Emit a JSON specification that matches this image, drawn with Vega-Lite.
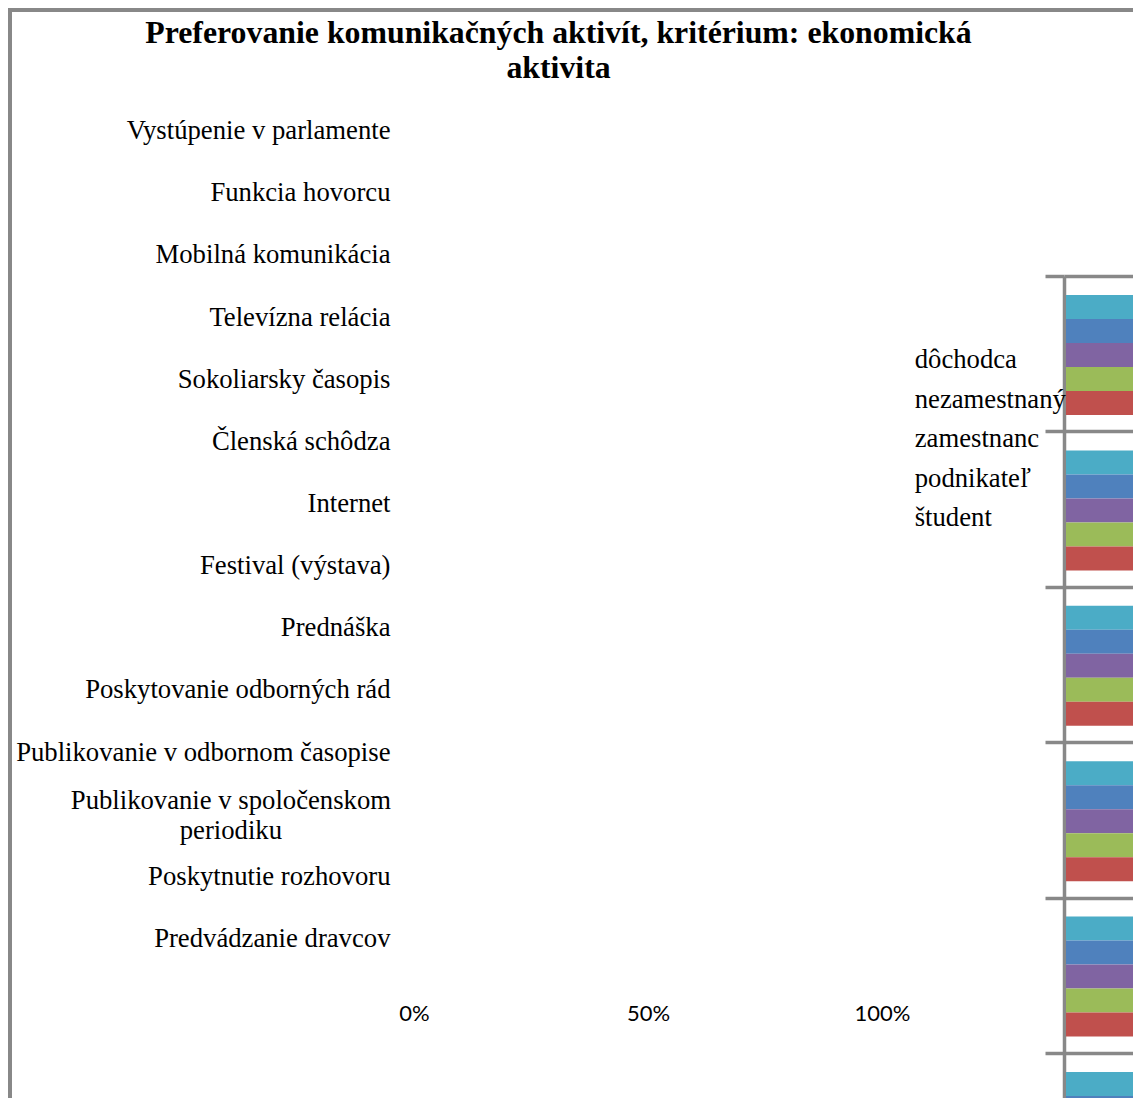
{
  "$schema": "https://vega.github.io/schema/vega-lite/v6.json",
  "usermeta": {"embedOptions": {"actions": false}},
  "autosize": {"type": "none"},
  "width": 1200,
  "height": 1200,
  "padding": {"left": 10, "top": 10, "right": 0, "bottom": 0},
  "background": "white",
  "config": {
    "view": {"stroke": "#888888", "strokeWidth": 4},
    "axis": {"labelColor": "#000000"}
  },
  "title": {
    "text": ["Preferovanie komunikačných aktivít, kritérium: ekonomická", "aktivita"],
    "font": "Liberation Serif",
    "fontSize": 31.8,
    "fontWeight": "bold",
    "color": "#000000",
    "anchor": "middle",
    "frame": "group",
    "baseline": "top",
    "offset": 0,
    "dx": -51.5,
    "dy": 75,
    "lineHeight": 35
  },
  "data": {
    "values": [
      {"aktivita": "Vystúpenie v parlamente", "skupina": "dôchodca", "podiel": 0.42},
      {"aktivita": "Vystúpenie v parlamente", "skupina": "nezamestnaný", "podiel": 0.38},
      {"aktivita": "Vystúpenie v parlamente", "skupina": "zamestnanc", "podiel": 0.45},
      {"aktivita": "Vystúpenie v parlamente", "skupina": "podnikateľ", "podiel": 0.5},
      {"aktivita": "Vystúpenie v parlamente", "skupina": "študent", "podiel": 0.36},
      {"aktivita": "Funkcia hovorcu", "skupina": "dôchodca", "podiel": 0.35},
      {"aktivita": "Funkcia hovorcu", "skupina": "nezamestnaný", "podiel": 0.4},
      {"aktivita": "Funkcia hovorcu", "skupina": "zamestnanc", "podiel": 0.44},
      {"aktivita": "Funkcia hovorcu", "skupina": "podnikateľ", "podiel": 0.47},
      {"aktivita": "Funkcia hovorcu", "skupina": "študent", "podiel": 0.39},
      {"aktivita": "Mobilná komunikácia", "skupina": "dôchodca", "podiel": 0.55},
      {"aktivita": "Mobilná komunikácia", "skupina": "nezamestnaný", "podiel": 0.6},
      {"aktivita": "Mobilná komunikácia", "skupina": "zamestnanc", "podiel": 0.62},
      {"aktivita": "Mobilná komunikácia", "skupina": "podnikateľ", "podiel": 0.66},
      {"aktivita": "Mobilná komunikácia", "skupina": "študent", "podiel": 0.7},
      {"aktivita": "Televízna relácia", "skupina": "dôchodca", "podiel": 0.6},
      {"aktivita": "Televízna relácia", "skupina": "nezamestnaný", "podiel": 0.52},
      {"aktivita": "Televízna relácia", "skupina": "zamestnanc", "podiel": 0.57},
      {"aktivita": "Televízna relácia", "skupina": "podnikateľ", "podiel": 0.58},
      {"aktivita": "Televízna relácia", "skupina": "študent", "podiel": 0.54},
      {"aktivita": "Sokoliarsky časopis", "skupina": "dôchodca", "podiel": 0.68},
      {"aktivita": "Sokoliarsky časopis", "skupina": "nezamestnaný", "podiel": 0.5},
      {"aktivita": "Sokoliarsky časopis", "skupina": "zamestnanc", "podiel": 0.64},
      {"aktivita": "Sokoliarsky časopis", "skupina": "podnikateľ", "podiel": 0.61},
      {"aktivita": "Sokoliarsky časopis", "skupina": "študent", "podiel": 0.56},
      {"aktivita": "Členská schôdza", "skupina": "dôchodca", "podiel": 0.7},
      {"aktivita": "Členská schôdza", "skupina": "nezamestnaný", "podiel": 0.48},
      {"aktivita": "Členská schôdza", "skupina": "zamestnanc", "podiel": 0.59},
      {"aktivita": "Členská schôdza", "skupina": "podnikateľ", "podiel": 0.55},
      {"aktivita": "Členská schôdza", "skupina": "študent", "podiel": 0.46},
      {"aktivita": "Internet", "skupina": "dôchodca", "podiel": 0.5},
      {"aktivita": "Internet", "skupina": "nezamestnaný", "podiel": 0.72},
      {"aktivita": "Internet", "skupina": "zamestnanc", "podiel": 0.75},
      {"aktivita": "Internet", "skupina": "podnikateľ", "podiel": 0.73},
      {"aktivita": "Internet", "skupina": "študent", "podiel": 0.82},
      {"aktivita": "Festival (výstava)", "skupina": "dôchodca", "podiel": 0.74},
      {"aktivita": "Festival (výstava)", "skupina": "nezamestnaný", "podiel": 0.66},
      {"aktivita": "Festival (výstava)", "skupina": "zamestnanc", "podiel": 0.7},
      {"aktivita": "Festival (výstava)", "skupina": "podnikateľ", "podiel": 0.68},
      {"aktivita": "Festival (výstava)", "skupina": "študent", "podiel": 0.71},
      {"aktivita": "Prednáška", "skupina": "dôchodca", "podiel": 0.66},
      {"aktivita": "Prednáška", "skupina": "nezamestnaný", "podiel": 0.55},
      {"aktivita": "Prednáška", "skupina": "zamestnanc", "podiel": 0.63},
      {"aktivita": "Prednáška", "skupina": "podnikateľ", "podiel": 0.6},
      {"aktivita": "Prednáška", "skupina": "študent", "podiel": 0.58},
      {"aktivita": "Poskytovanie odborných rád", "skupina": "dôchodca", "podiel": 0.62},
      {"aktivita": "Poskytovanie odborných rád", "skupina": "nezamestnaný", "podiel": 0.47},
      {"aktivita": "Poskytovanie odborných rád", "skupina": "zamestnanc", "podiel": 0.58},
      {"aktivita": "Poskytovanie odborných rád", "skupina": "podnikateľ", "podiel": 0.64},
      {"aktivita": "Poskytovanie odborných rád", "skupina": "študent", "podiel": 0.45},
      {"aktivita": "Publikovanie v odbornom časopise", "skupina": "dôchodca", "podiel": 0.57},
      {"aktivita": "Publikovanie v odbornom časopise", "skupina": "nezamestnaný", "podiel": 0.43},
      {"aktivita": "Publikovanie v odbornom časopise", "skupina": "zamestnanc", "podiel": 0.53},
      {"aktivita": "Publikovanie v odbornom časopise", "skupina": "podnikateľ", "podiel": 0.56},
      {"aktivita": "Publikovanie v odbornom časopise", "skupina": "študent", "podiel": 0.49},
      {"aktivita": "Publikovanie v spoločenskom periodiku", "skupina": "dôchodca", "podiel": 0.48},
      {"aktivita": "Publikovanie v spoločenskom periodiku", "skupina": "nezamestnaný", "podiel": 0.41},
      {"aktivita": "Publikovanie v spoločenskom periodiku", "skupina": "zamestnanc", "podiel": 0.46},
      {"aktivita": "Publikovanie v spoločenskom periodiku", "skupina": "podnikateľ", "podiel": 0.5},
      {"aktivita": "Publikovanie v spoločenskom periodiku", "skupina": "študent", "podiel": 0.44},
      {"aktivita": "Poskytnutie rozhovoru", "skupina": "dôchodca", "podiel": 0.45},
      {"aktivita": "Poskytnutie rozhovoru", "skupina": "nezamestnaný", "podiel": 0.39},
      {"aktivita": "Poskytnutie rozhovoru", "skupina": "zamestnanc", "podiel": 0.43},
      {"aktivita": "Poskytnutie rozhovoru", "skupina": "podnikateľ", "podiel": 0.52},
      {"aktivita": "Poskytnutie rozhovoru", "skupina": "študent", "podiel": 0.4},
      {"aktivita": "Predvádzanie dravcov", "skupina": "dôchodca", "podiel": 0.78},
      {"aktivita": "Predvádzanie dravcov", "skupina": "nezamestnaný", "podiel": 0.69},
      {"aktivita": "Predvádzanie dravcov", "skupina": "zamestnanc", "podiel": 0.74},
      {"aktivita": "Predvádzanie dravcov", "skupina": "podnikateľ", "podiel": 0.71},
      {"aktivita": "Predvádzanie dravcov", "skupina": "študent", "podiel": 0.8}
    ]
  },
  "resolve": {
    "scale": {"x": "independent", "y": "independent"},
    "axis": {"x": "independent", "y": "independent"}
  },
  "layer": [
    {
      "mark": {"type": "bar", "opacity": 0},
      "encoding": {
        "y": {
          "field": "aktivita",
          "type": "nominal",
          "sort": null,
          "scale": {"range": [90, 960], "paddingInner": 0, "paddingOuter": 0},
          "axis": {
            "orient": "left",
            "offset": -380,
            "title": null,
            "domain": false,
            "ticks": false,
            "tickSize": 0,
            "grid": false,
            "labelPadding": {"condition": {"test": "datum.value === 'Publikovanie v spoločenskom periodiku'", "value": 159.6}, "value": 0},
            "labelAlign": {"condition": {"test": "datum.value === 'Publikovanie v spoločenskom periodiku'", "value": "center"}, "value": "right"},
            "labelOffset": {"condition": {"test": "datum.value === 'Publikovanie v spoločenskom periodiku'", "value": -14}, "value": 0},
            "labelExpr": "datum.value === 'Publikovanie v spoločenskom periodiku' ? ['Publikovanie v spoločenskom', 'periodiku'] : datum.value",
            "labelLineHeight": 30,
            "labelFont": "Liberation Serif",
            "labelFontSize": 26.7,
            "labelColor": "#000000",
            "labelLimit": 0,
            "labelOverlap": false
          }
        },
        "x": {
          "field": "podiel",
          "type": "quantitative",
          "stack": null,
          "scale": {"domain": [0, 1], "range": [404, 872]},
          "axis": {
            "orient": "bottom",
            "offset": -197,
            "title": null,
            "values": [0, 0.5, 1],
            "format": ".0%",
            "domain": false,
            "ticks": false,
            "tickSize": 0,
            "grid": false,
            "labelPadding": 0,
            "labelBaseline": "middle",
            "labelFlush": false,
            "labelOverlap": false,
            "labelFont": "Lato",
            "labelFontSize": 22,
            "labelColor": "#000000"
          }
        }
      }
    },
    {
      "mark": {"type": "bar"},
      "encoding": {
        "y": {
          "field": "aktivita",
          "type": "nominal",
          "sort": null,
          "scale": {"range": [266, 2441.6], "paddingInner": 0, "paddingOuter": 0},
          "axis": {
            "orient": "left",
            "offset": -1054,
            "title": null,
            "labels": false,
            "grid": false,
            "domain": true,
            "domainColor": "#888888",
            "domainWidth": 3.5,
            "ticks": true,
            "tickBand": "extent",
            "tickSize": 19,
            "tickColor": "#888888",
            "tickWidth": 3.5
          }
        },
        "yOffset": {
          "field": "skupina",
          "type": "nominal",
          "sort": ["dôchodca", "nezamestnaný", "zamestnanc", "podnikateľ", "študent"],
          "scale": {"paddingInner": 0, "paddingOuter": 0.7375, "align": 0.537}
        },
        "x": {
          "field": "podiel",
          "type": "quantitative",
          "stack": null,
          "scale": {"domain": [0, 1], "range": [1056, 1524]},
          "axis": null
        },
        "color": {
          "field": "skupina",
          "type": "nominal",
          "sort": ["dôchodca", "nezamestnaný", "zamestnanc", "podnikateľ", "študent"],
          "scale": {
            "domain": ["dôchodca", "nezamestnaný", "zamestnanc", "podnikateľ", "študent"],
            "range": ["#4BACC6", "#4F81BD", "#8064A2", "#9BBB59", "#C0504D"]
          },
          "legend": {
            "orient": "none",
            "legendX": 878,
            "legendY": 337,
            "title": null,
            "symbolSize": 0,
            "symbolOpacity": 0,
            "symbolStrokeWidth": 0,
            "labelOffset": 0,
            "labelFont": "Liberation Serif",
            "labelFontSize": 26.7,
            "labelColor": "#000000",
            "labelLimit": 0,
            "rowPadding": 11.5,
            "padding": 0
          }
        }
      }
    },
    {
      "mark": {"type": "tick", "opacity": 0},
      "encoding": {
        "y": {
          "field": "aktivita",
          "type": "nominal",
          "sort": null,
          "scale": {"range": [266, 2441.6], "paddingInner": 0, "paddingOuter": 0},
          "axis": {
            "orient": "right",
            "offset": -146,
            "title": null,
            "labels": false,
            "grid": false,
            "domain": false,
            "ticks": true,
            "tickBand": "extent",
            "tickSize": 100,
            "tickColor": "#888888",
            "tickWidth": 3.5
          }
        }
      }
    }
  ]
}
